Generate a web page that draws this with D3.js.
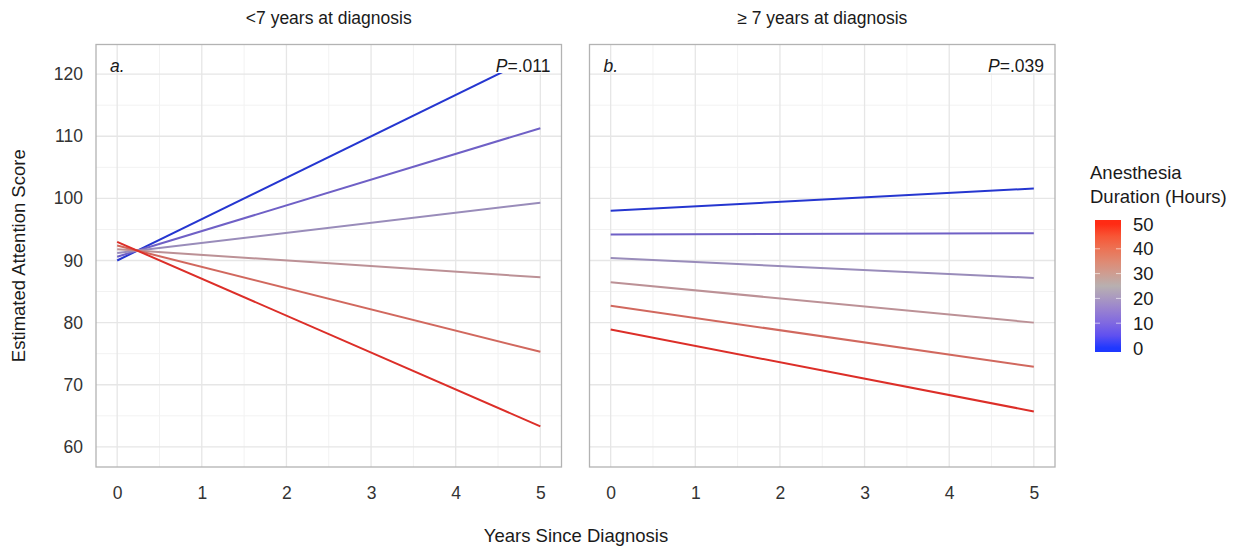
<!DOCTYPE html>
<html>
<head>
<meta charset="utf-8">
<script src="https://cdn.jsdelivr.net/npm/d3@7"></script>
<style>
  body { margin: 0; background: #fff; }
  text { font-family: "Liberation Sans", Arial, sans-serif; }
</style>
</head>
<body>
<script>
// ---------------------------------- data ----------------------------------
var durations = [0, 10, 20, 30, 40, 50];
var years = [0, 5];
var panelAStart = [90.0, 90.6, 91.2, 91.8, 92.4, 93.0];
var panelAEnd = [123.3, 111.3, 99.3, 87.3, 75.3, 63.3];
var panelBStart = [98.0, 94.2, 90.4, 86.5, 82.7, 78.9];
var panelBEnd = [101.6, 94.4, 87.2, 80.0, 72.9, 65.7];
var xTicks = [0, 1, 2, 3, 4, 5];
var yTicks = [60, 70, 80, 90, 100, 110, 120];
var legendTicks = [0, 10, 20, 30, 40, 50];

var panels = [
  { title: "<7 years at diagnosis", tag: "a.", p: ".011", start: panelAStart, end: panelAEnd, left: 96, right: 561.5 },
  { title: "\u2265 7 years at diagnosis", tag: "b.", p: ".039", start: panelBStart, end: panelBEnd, left: 589.5, right: 1055 }
];

var width = 1248, height = 549;
var plotTop = 44.5, plotBottom = 467;
var fs = "17.5px";

var svg = d3.select("body").append("svg")
  .attr("width", width)
  .attr("height", height);

var y = d3.scaleLinear().domain([56.76, 124.77]).range([plotBottom, plotTop]);

// line colour scale (blue - grey - red)
var colour = d3.scaleLinear()
  .domain([0, 25, 50])
  .range(["#2536d0", "#aba3b3", "#dc2e28"])
  .interpolate(d3.interpolateLab);
var legendColour = d3.scaleLinear()
  .domain([0, 25, 50])
  .range(["#1f38ff", "#b8b0b0", "#ff2b14"])
  .interpolate(d3.interpolateLab);

panels.forEach(function (pn, i) {
  var x = d3.scaleLinear().domain([-0.25, 5.25]).range([pn.left, pn.right]);
  var g = svg.append("g");

  // minor grid
  var minorX = d3.range(-0.5, 5.5, 1).filter(function (v) { return v > -0.25 && v < 5.25; });
  var minorY = d3.range(55, 130, 10).filter(function (v) { return v > 56.76 && v < 124.77; });
  g.selectAll(".mx").data(minorX).enter().append("line")
    .attr("x1", x).attr("x2", x).attr("y1", plotTop).attr("y2", plotBottom)
    .attr("stroke", "#f2f2f2").attr("stroke-width", 1);
  g.selectAll(".my").data(minorY).enter().append("line")
    .attr("x1", pn.left).attr("x2", pn.right).attr("y1", y).attr("y2", y)
    .attr("stroke", "#f2f2f2").attr("stroke-width", 1);
  // major grid
  g.selectAll(".gx").data(xTicks).enter().append("line")
    .attr("x1", x).attr("x2", x).attr("y1", plotTop).attr("y2", plotBottom)
    .attr("stroke", "#e6e6e6").attr("stroke-width", 1.3);
  g.selectAll(".gy").data(yTicks).enter().append("line")
    .attr("x1", pn.left).attr("x2", pn.right).attr("y1", y).attr("y2", y)
    .attr("stroke", "#e6e6e6").attr("stroke-width", 1.3);

  // lines
  g.selectAll(".trend").data(durations).enter().append("line")
    .attr("x1", x(years[0])).attr("x2", x(years[1]))
    .attr("y1", function (d, k) { return y(pn.start[k]); })
    .attr("y2", function (d, k) { return y(pn.end[k]); })
    .attr("stroke", function (d) { return colour(d); })
    .attr("stroke-width", 2);

  // P label with white background
  var pText = g.append("text")
    .attr("x", pn.right - 11).attr("y", 72)
    .attr("text-anchor", "end")
    .style("font-size", fs).attr("fill", "#1a1a1a");
  pText.append("tspan").style("font-style", "italic").text("P");
  pText.append("tspan").text("=" + pn.p);
  var bb = pText.node().getBBox();
  g.insert("rect", "text")
    .attr("x", bb.x - 3).attr("y", plotTop)
    .attr("width", pn.right - bb.x + 3).attr("height", 73 - plotTop)
    .attr("fill", "#fff");

  // panel border
  g.append("rect")
    .attr("x", pn.left).attr("y", plotTop)
    .attr("width", pn.right - pn.left).attr("height", plotBottom - plotTop)
    .attr("fill", "none").attr("stroke", "#b3b3b3").attr("stroke-width", 1.3);

  g.append("text")
    .attr("x", pn.left + 14).attr("y", 72)
    .style("font-size", fs).style("font-style", "italic").attr("fill", "#1a1a1a")
    .text(pn.tag);

  // strip title
  g.append("text")
    .attr("x", (pn.left + pn.right) / 2).attr("y", 24)
    .attr("text-anchor", "middle")
    .style("font-size", fs).attr("fill", "#1a1a1a")
    .text(pn.title);

  // x axis
  var xAxis = d3.axisBottom(x).tickValues(xTicks).tickFormat(d3.format("d")).tickSize(0).tickPadding(0);
  var ax = g.append("g").attr("transform", "translate(0," + (plotBottom + 20) + ")").call(xAxis);
  ax.select(".domain").remove();
  ax.selectAll("text").style("font-size", fs).attr("fill", "#333").attr("dy", "0.71em");

  if (i === 0) {
    var yAxis = d3.axisLeft(y).tickValues(yTicks).tickSize(0).tickPadding(0);
    var ay = g.append("g").attr("transform", "translate(" + (pn.left - 13) + ",0)").call(yAxis);
    ay.select(".domain").remove();
    ay.selectAll("text").style("font-size", fs).attr("fill", "#333");
  }
});

// axis titles
svg.append("text")
  .attr("x", 576).attr("y", 542)
  .attr("text-anchor", "middle")
  .style("font-size", "18.5px").attr("fill", "#1a1a1a")
  .text("Years Since Diagnosis");

svg.append("text")
  .attr("transform", "translate(25," + (plotTop + plotBottom) / 2 + ") rotate(-90)")
  .attr("text-anchor", "middle")
  .style("font-size", "18.5px").attr("fill", "#1a1a1a")
  .text("Estimated Attention Score");

// ---------------------------------- legend ----------------------------------
var legX = 1095, legW = 26;
var ly = d3.scaleLinear().domain([0, 50]).range([348, 224]);

var defs = svg.append("defs");
var grad = defs.append("linearGradient").attr("id", "legGrad")
  .attr("x1", 0).attr("y1", 1).attr("x2", 0).attr("y2", 0);
grad.selectAll("stop").data(d3.range(0, 51, 5)).enter().append("stop")
  .attr("offset", function (d) { return (ly(0) + 4 - ly(d)) / (ly(0) - ly(50) + 8); })
  .attr("stop-color", function (d) { return legendColour(d); });

svg.append("rect")
  .attr("x", legX).attr("y", ly(50) - 4)
  .attr("width", legW).attr("height", ly(0) - ly(50) + 8)
  .attr("fill", "url(#legGrad)");

svg.selectAll(".ltick").data(legendTicks.slice(1, 5)).enter().append("g")
  .each(function (d) {
    d3.select(this).append("line")
      .attr("x1", legX).attr("x2", legX + 5).attr("y1", ly(d)).attr("y2", ly(d))
      .attr("stroke", "#fff").attr("stroke-opacity", 0.6);
    d3.select(this).append("line")
      .attr("x1", legX + legW - 5).attr("x2", legX + legW).attr("y1", ly(d)).attr("y2", ly(d))
      .attr("stroke", "#fff").attr("stroke-opacity", 0.6);
  });

svg.selectAll(".llab").data(legendTicks).enter().append("text")
  .attr("x", 1133).attr("y", ly)
  .attr("dy", "0.36em")
  .style("font-size", "18.5px").attr("fill", "#1a1a1a")
  .text(function (d) { return d; });

svg.append("text")
  .attr("x", 1090).attr("y", 179)
  .style("font-size", "18.5px").attr("fill", "#1a1a1a")
  .text("Anesthesia");
svg.append("text")
  .attr("x", 1090).attr("y", 203)
  .style("font-size", "18.5px").attr("fill", "#1a1a1a")
  .text("Duration (Hours)");
</script>
</body>
</html>
